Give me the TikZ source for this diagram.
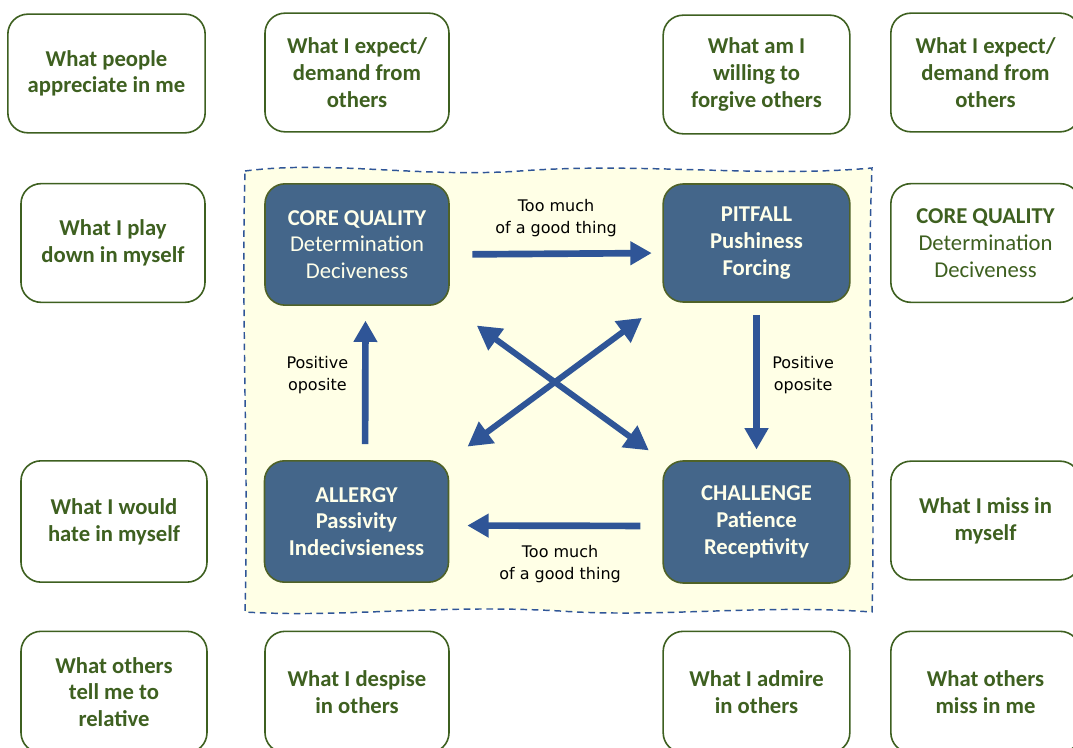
\documentclass[tikz,border=0pt]{standalone}
\usepackage{fontspec}
\setmainfont{Carlito}
\newfontfamily\lblfont{DejaVu Sans}
\usetikzlibrary{arrows.meta}

\definecolor{boxgreen}{HTML}{3E6020}
\definecolor{slateblue}{HTML}{44668A}
\definecolor{olivegreen}{HTML}{4F6228}
\definecolor{cream}{HTML}{FFFFEA}
\definecolor{arrowblue}{HTML}{2F5597}
\definecolor{paleyellow}{HTML}{FFFFE6}

\tikzset{
	whitebox/.style={draw=boxgreen, line width=1.2pt, rounded corners=15pt, fill=white, minimum width=138pt, minimum height=89pt, align=center, text=boxgreen, font=\bfseries\fontsize{17}{20}\selectfont},
	darkbox/.style={whitebox, draw=olivegreen, fill=slateblue, text=cream, minimum height=90pt},
	bigarrow/.style={draw=arrowblue, line width=5pt, -{Triangle[length=16pt,width=17pt]}},
	twoway/.style={bigarrow, {Triangle[length=18pt,width=19pt]}-{Triangle[length=18pt,width=19pt]}, line width=4.5pt},
	lbl/.style={font=\lblfont\fontsize{12}{16.5}\selectfont, align=center, text=black}
}

\begin{document}
\begin{tikzpicture}[x=0.75pt, y=-0.75pt]
	\useasboundingbox (0,0) rectangle (1073,748);
	\begin{scope}
		\clip (0,0) rectangle (1073,748);
		% yellow area
		\draw[arrowblue, fill=paleyellow, line width=1.1pt, dash pattern=on 5pt off 3.5pt] (245,171) .. controls (330,160) and (420,178) .. (520,171) .. controls (640,162) and (760,178) .. (872,168) .. controls (866,320) and (876,460) .. (872,612) .. controls (760,604) and (660,618) .. (560,611) .. controls (440,604) and (340,618) .. (245,612) .. controls (249,470) and (241,320) .. cycle;

		% top row
		\node[whitebox, minimum width=148pt] (appreciate) at (106.5,73.5) {What people\\appreciate in me};
		\node[whitebox] (expectleft) at (357,72.5) {What I expect/\\demand from\\others};
		\node[whitebox, minimum width=140pt] (forgive) at (756.5,74.5) {What am I\\willing to\\forgive others};
		\node[whitebox, minimum width=142pt] (expectright) at (985.5,72.5) {What I expect/\\demand from\\others};

		% second row
		\node[whitebox] (playdown) at (113,243) {What I play\\down in myself};
		\node[darkbox, minimum height=91pt] (core) at (357,244.5) {CORE QUALITY\\\mdseries Determination\\\mdseries Deciveness};
		\node[darkbox, minimum width=140pt, minimum height=88.5pt] (pitfall) at (756.5,243) {PITFALL\\Pushiness\\Forcing};
		\node[whitebox, minimum width=142pt] (corecopy) at (985.5,243) {CORE QUALITY\\\mdseries Determination\\\mdseries Deciveness};

		% third row
		\node[whitebox, minimum width=139.5pt, minimum height=91pt] (hate) at (114,521.5) {What I would\\hate in myself};
		\node[darkbox, minimum height=91pt] (allergy) at (356.5,521.5) {ALLERGY\\Passivity\\Indecivsieness};
		\node[darkbox, minimum width=140pt, minimum height=91.5pt] (challenge) at (756.5,522) {CHALLENGE\\Patience\\Receptivity};
		\node[whitebox, minimum width=142pt, minimum height=89pt] (missself) at (985.5,520.5) {What I miss in\\myself};

		% bottom row
		\node[whitebox, minimum width=139.5pt, minimum height=91pt] (tellme) at (114,692) {What others\\tell me to\\relative};
		\node[whitebox, minimum height=91pt] (despise) at (357,692) {What I despise\\in others};
		\node[whitebox, minimum width=140pt, minimum height=91pt] (admire) at (756.5,692) {What I admire\\in others};
		\node[whitebox, minimum width=142pt, minimum height=91pt] (missme) at (985.5,692) {What others\\miss in me};

		% arrows
		\draw[bigarrow, shorten <=17pt, shorten >=8pt] ([yshift=-7.5pt]core.east) -- ([yshift=-7.5pt]pitfall.west) node[lbl, above=7pt, pos=0.5] (toomuchtop) {Too much\\of a good thing};
		\draw[bigarrow, shorten <=9pt, shorten >=8pt] (pitfall.south) -- (challenge.north) node[lbl, right=6pt, pos=0.46] (positiveright) {Positive\\oposite};
		\draw[bigarrow, shorten <=16.5pt, shorten >=13.5pt] ([yshift=-3pt]challenge.west) -- ([yshift=-3pt]allergy.east) node[lbl, below=8.5pt, pos=0.48] (toomuchbottom) {Too much\\of a good thing};
		\draw[bigarrow, shorten <=12pt, shorten >=11pt] ([xshift=6.4pt]allergy.north) -- ([xshift=6.4pt]core.south) node[lbl, left=7pt, pos=0.55] (positiveleft) {Positive\\oposite};
		\draw[twoway, shorten <=25pt, shorten >=12.5pt] (core.south east) -- (challenge.north west);
		\draw[twoway, shorten <=19pt, shorten >=17pt] (pitfall.south west) -- (allergy.north east);
	\end{scope}
\end{tikzpicture}
\end{document}
